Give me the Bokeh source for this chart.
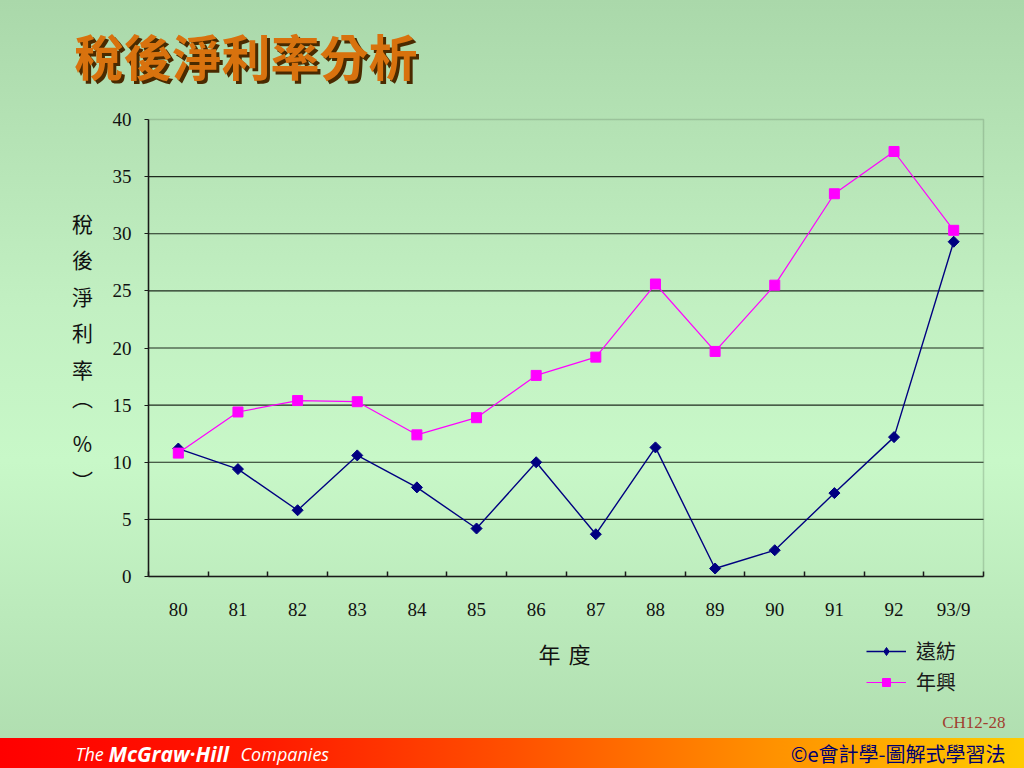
from bokeh.plotting import figure
from bokeh.models import (Range1d, FixedTicker, Label, Legend, LegendItem, BoxAnnotation)
from bokeh.embed import file_html
from bokeh.resources import INLINE

# ---- data ----
years = ["80", "81", "82", "83", "84", "85", "86", "87", "88", "89", "90", "91", "92", "93/9"]
far_eastern = [11.2, 9.4, 5.8, 10.6, 7.8, 4.2, 10.0, 3.7, 11.3, 0.7, 2.3, 7.3, 12.2, 29.3]   # 遠紡
nien_hsing = [10.8, 14.4, 15.4, 15.3, 12.4, 13.9, 17.6, 19.2, 25.6, 19.7, 25.5, 33.5, 37.2, 30.3]  # 年興
y_ticks = [0, 5, 10, 15, 20, 25, 30, 35, 40]
series_names = ["遠紡", "年興"]
title_text = "稅後淨利率分析"
y_title_chars = ["稅", "後", "淨", "利", "率", "︵", "%", "︶"]
x_title_chars = ["年", "度"]

# ---- layout (page pixels) ----
W, H = 1024, 768
FL, FR, FT, FB = 148, 983, 119, 576  # plot-area edges

xs = list(range(len(years)))
x_lo, x_hi = -0.5, len(years) - 0.5
y_lo, y_hi = y_ticks[0], y_ticks[-1]
ppx = (FR - FL) / (x_hi - x_lo)
ppy = (FB - FT) / (y_hi - y_lo)

p = figure(width=W, height=H, output_backend="svg", toolbar_location=None,
           x_range=Range1d(x_lo - FL / ppx, x_hi + (W - FR) / ppx),
           y_range=Range1d(y_lo - (H - FB) / ppy, y_hi + FT / ppy),
           min_border=0)
p.min_border_left = p.min_border_right = p.min_border_top = p.min_border_bottom = 0

p.background_fill_alpha = 0
p.border_fill_alpha = 0
p.outline_line_color = None
p.styles = {
    "background": (
        "linear-gradient(to right, #ff0000 0%, #ff1800 25%, #ff5000 50%, #ff9000 75%, #ffcc00 100%) "
        "left bottom / 100% 30px no-repeat, "
        "linear-gradient(to bottom, #aad8aa 0%, #c2f0c2 40%, #c8f8c8 60%, #aedcae 100%)"
    )
}

# axes placed at the plot-area edges
xa = p.xaxis[0]
xa.fixed_location = y_lo
xa.bounds = (x_lo, x_hi)
xa.ticker = FixedTicker(ticks=xs, minor_ticks=[i - 0.5 for i in range(len(years) + 1)])
xa.major_label_overrides = {i: years[i] for i in xs}
xa.major_tick_line_color = None
xa.minor_tick_in = 5
xa.minor_tick_out = 0
xa.minor_tick_line_color = "#1a1a1a"
xa.minor_tick_line_width = 1.5
xa.axis_line_color = "#1a1a1a"
xa.axis_line_width = 1.5
xa.major_label_standoff = 16
xa.major_label_text_font = "Liberation Serif"
xa.major_label_text_font_size = "19px"
xa.major_label_text_color = "#111111"

ya = p.yaxis[0]
ya.fixed_location = x_lo
ya.bounds = (y_lo, y_hi)
ya.ticker = FixedTicker(ticks=y_ticks)
ya.minor_tick_line_color = None
ya.major_tick_in = 0
ya.major_tick_out = 4
ya.major_tick_line_color = "#1a1a1a"
ya.axis_line_color = "#1a1a1a"
ya.axis_line_width = 1.5
ya.major_label_standoff = 13
ya.major_label_text_font = "Liberation Serif"
ya.major_label_text_font_size = "19px"
ya.major_label_text_color = "#111111"

p.xgrid.visible = False
p.ygrid.visible = False

# plot-area border and horizontal gridlines
p.add_layout(BoxAnnotation(left=x_lo, right=x_hi, bottom=y_lo, top=y_hi,
                           fill_alpha=0, line_color="#627e62", line_width=1.5,
                           level="underlay"))
grid_y = y_ticks[1:-1]
p.segment(x0=[x_lo] * len(grid_y), x1=[x_hi] * len(grid_y), y0=grid_y, y1=grid_y,
          line_color="#1e2a1e", line_width=1.2)

# series
l1 = p.line(xs, far_eastern, line_color="#000080", line_width=1.4)
m1 = p.scatter(xs, far_eastern, marker="square", angle=0.785398, size=7.8,
               fill_color="#000080", line_color="#000080")
# same points as a diamond marker, hidden, used only for the legend swatch
m1_leg = p.scatter(xs, far_eastern, marker="diamond", size=13,
                   fill_color="#000080", line_color="#000080", visible=False)
l2 = p.line(xs, nien_hsing, line_color="#ff00ff", line_width=1.2)
m2 = p.scatter(xs, nien_hsing, marker="square", size=10,
               fill_color="#ff00ff", line_color="#ff00ff")


def lab(text, X, Y, size, font="Noto Sans CJK TC", color="#111111", align="center",
        style="normal", baseline="middle"):
    lb = Label(x=X, y=H - Y, x_units="screen", y_units="screen", text=text,
               text_font=font, text_font_size=f"{size}px", text_color=color,
               text_align=align, text_baseline=baseline, text_font_style=style)
    p.add_layout(lb)
    return lb


# title with shadow
lab(title_text, 77, 57, 49, color="#4a2a00", align="left", style="bold")
lab(title_text, 74, 54, 49, color="#d8720e", align="left", style="bold")

# y-axis title (vertical)
for ch, yy in zip(y_title_chars, [222, 258, 295, 331, 368, 396, 442, 479]):
    lab(ch, 82, yy, 21)

# x-axis title
for ch, xx in zip(x_title_chars, [549, 579]):
    lab(ch, xx, 652, 22)

# legend
legend = Legend(items=[LegendItem(label=series_names[0], renderers=[l1, m1_leg]),
                       LegendItem(label=series_names[1], renderers=[l2, m2])],
                location=(866, H - 696),
                background_fill_alpha=0, border_line_color=None,
                inactive_fill_alpha=0,
                padding=0, margin=0, spacing=2,
                glyph_width=40, glyph_height=20, label_height=20,
                label_standoff=10,
                label_text_font="Noto Sans CJK TC", label_text_font_size="20px",
                label_text_color="#1a1a1a")
p.add_layout(legend, "center")

# slide footer texts
lab("CH12-28", 1005, 722, 17, font="Liberation Serif", color="#a04030", align="right")
lab("The", 75, 753, 18, font="Open Sans", color="#ffffff", align="left", style="italic")
lab("McGraw·Hill", 108, 753, 21, font="Open Sans", color="#ffffff", align="left", style="bold italic")
lab("Companies", 240, 753, 18, font="Open Sans", color="#ffffff", align="left", style="italic")
lab("©e會計學-圖解式學習法", 1005, 753, 20, color="#000070", align="right")

open("out.html", "w").write(file_html(p, INLINE))
